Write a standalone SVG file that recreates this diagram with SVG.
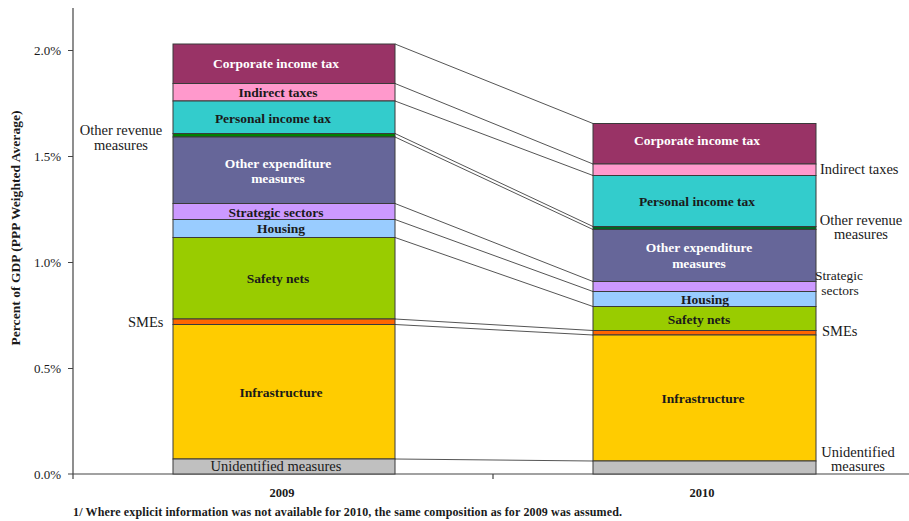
<svg xmlns="http://www.w3.org/2000/svg" width="909" height="521" viewBox="0 0 909 521">
  <style>
    text { font-family: "Liberation Serif", "DejaVu Serif", serif; fill: #1a1a1a; }
    .seg { stroke: #3a3a3a; stroke-width: 1; }
    .in { font-size: 13.5px; font-weight: bold; text-anchor: middle; }
    .inw { font-size: 13.5px; font-weight: bold; text-anchor: middle; fill: #ffffff; }
    .out { font-size: 14.5px; }
    .outc { font-size: 14.5px; text-anchor: middle; }
    .tick { font-size: 13px; text-anchor: end; }
    .axis { stroke: #444; stroke-width: 1.2; fill: none; }
    .conn line { stroke: #555; stroke-width: 1; }
  </style>

  <!-- axes -->
  <g id="axes">
    <line class="axis" x1="73" y1="8" x2="73" y2="474"/>
    <line class="axis" x1="73" y1="474" x2="909" y2="474"/>
    <path class="axis" d="M68 50.5H73M68 156.5H73M68 262.5H73M68 368.5H73M68 474H73M73 474V479M493 474V479"/>
    <text class="tick" x="61" y="55">2.0%</text>
    <text class="tick" x="61" y="161">1.5%</text>
    <text class="tick" x="61" y="267">1.0%</text>
    <text class="tick" x="61" y="373">0.5%</text>
    <text class="tick" x="61" y="479">0.0%</text>
    <text transform="translate(20 228) rotate(-90)" style="font-size:13.5px;font-weight:bold;text-anchor:middle" textLength="235">Percent of GDP (PPP Weighted Average)</text>
    <text style="font-size:12.5px;font-weight:bold;text-anchor:middle" x="282" y="497">2009</text>
    <text style="font-size:12.5px;font-weight:bold;text-anchor:middle" x="702" y="497">2010</text>
    <text style="font-size:12px;font-weight:bold" x="73" y="516" textLength="549">1/ Where explicit information was not available for 2010, the same composition as for 2009 was assumed.</text>
  </g>

  <!-- connectors between matching segment boundaries -->
  <g id="connectors" class="conn">
    <line x1="395" y1="44" x2="593" y2="123.5"/>
    <line x1="395" y1="83.5" x2="593" y2="164"/>
    <line x1="395" y1="101" x2="593" y2="175.5"/>
    <line x1="395" y1="133.5" x2="593" y2="226.5"/>
    <line x1="395" y1="137" x2="593" y2="229.5"/>
    <line x1="395" y1="203.5" x2="593" y2="281.5"/>
    <line x1="395" y1="219.5" x2="593" y2="291.5"/>
    <line x1="395" y1="237.5" x2="593" y2="306.5"/>
    <line x1="395" y1="319" x2="593" y2="330.5"/>
    <line x1="395" y1="324.5" x2="593" y2="335"/>
    <line x1="395" y1="459" x2="593" y2="461"/>
  </g>

  <!-- 2009 stacked bar -->
  <g id="bar-2009">
    <rect class="seg" x="173" y="44" width="222" height="39.5" fill="#993366"/>
    <rect class="seg" x="173" y="83.5" width="222" height="17.5" fill="#ff99cc"/>
    <rect class="seg" x="173" y="101" width="222" height="32.5" fill="#33cccc"/>
    <rect class="seg" x="173" y="133.5" width="222" height="3.5" fill="#008000"/>
    <rect class="seg" x="173" y="137" width="222" height="66.5" fill="#666699"/>
    <rect class="seg" x="173" y="203.5" width="222" height="16" fill="#cc99ff"/>
    <rect class="seg" x="173" y="219.5" width="222" height="18" fill="#99ccff"/>
    <rect class="seg" x="173" y="237.5" width="222" height="81.5" fill="#99cc00"/>
    <rect class="seg" x="173" y="319" width="222" height="5.5" fill="#ff6600"/>
    <rect class="seg" x="173" y="324.5" width="222" height="134.5" fill="#ffcc00"/>
    <rect class="seg" x="173" y="459" width="222" height="15" fill="#c0c0c0"/>
    <text class="inw" x="276" y="67.5">Corporate income tax</text>
    <text class="in" x="278" y="97">Indirect taxes</text>
    <text class="in" x="273" y="122.5">Personal income tax</text>
    <text class="inw" x="278" y="167.5">Other expenditure</text>
    <text class="inw" x="278" y="182.5">measures</text>
    <text class="in" x="276" y="216.5">Strategic sectors</text>
    <text class="in" x="281" y="233">Housing</text>
    <text class="in" x="278" y="283">Safety nets</text>
    <text class="in" x="281" y="396.5">Infrastructure</text>
    <text class="outc" x="276" y="471">Unidentified measures</text>
  </g>

  <!-- 2010 stacked bar -->
  <g id="bar-2010">
    <rect class="seg" x="593" y="123.5" width="223" height="40.5" fill="#993366"/>
    <rect class="seg" x="593" y="164" width="223" height="11.5" fill="#ff99cc"/>
    <rect class="seg" x="593" y="175.5" width="223" height="51" fill="#33cccc"/>
    <rect class="seg" x="593" y="226.5" width="223" height="3" fill="#006622"/>
    <rect class="seg" x="593" y="229.5" width="223" height="52" fill="#666699"/>
    <rect class="seg" x="593" y="281.5" width="223" height="10" fill="#cc99ff"/>
    <rect class="seg" x="593" y="291.5" width="223" height="15" fill="#99ccff"/>
    <rect class="seg" x="593" y="306.5" width="223" height="24" fill="#99cc00"/>
    <rect class="seg" x="593" y="330.5" width="223" height="4.5" fill="#ff6600"/>
    <rect class="seg" x="593" y="335" width="223" height="126" fill="#ffcc00"/>
    <rect class="seg" x="593" y="461" width="223" height="13" fill="#c0c0c0"/>
    <text class="inw" x="697" y="144.5">Corporate income tax</text>
    <text class="in" x="697" y="205.5">Personal income tax</text>
    <text class="inw" x="699" y="252">Other expenditure</text>
    <text class="inw" x="699" y="268">measures</text>
    <text class="in" x="705" y="304">Housing</text>
    <text class="in" x="699" y="324">Safety nets</text>
    <text class="in" x="703" y="403">Infrastructure</text>
  </g>

  <!-- side labels for thin segments -->
  <g id="labels-left">
    <text class="outc" x="121" y="135">Other revenue</text>
    <text class="outc" x="121" y="150">measures</text>
    <text class="out" x="128" y="327">SMEs</text>
  </g>
  <g id="labels-right">
    <text class="out" x="820" y="174">Indirect taxes</text>
    <text class="outc" x="861" y="224.5">Other revenue</text>
    <text class="outc" x="861" y="239">measures</text>
    <text style="font-size:13.5px;text-anchor:middle" x="839" y="280">Strategic</text>
    <text style="font-size:13.5px;text-anchor:middle" x="840" y="295">sectors</text>
    <text class="out" x="822" y="335.5">SMEs</text>
    <text class="outc" x="858" y="456.5">Unidentified</text>
    <text class="outc" x="858" y="471">measures</text>
  </g>
</svg>
